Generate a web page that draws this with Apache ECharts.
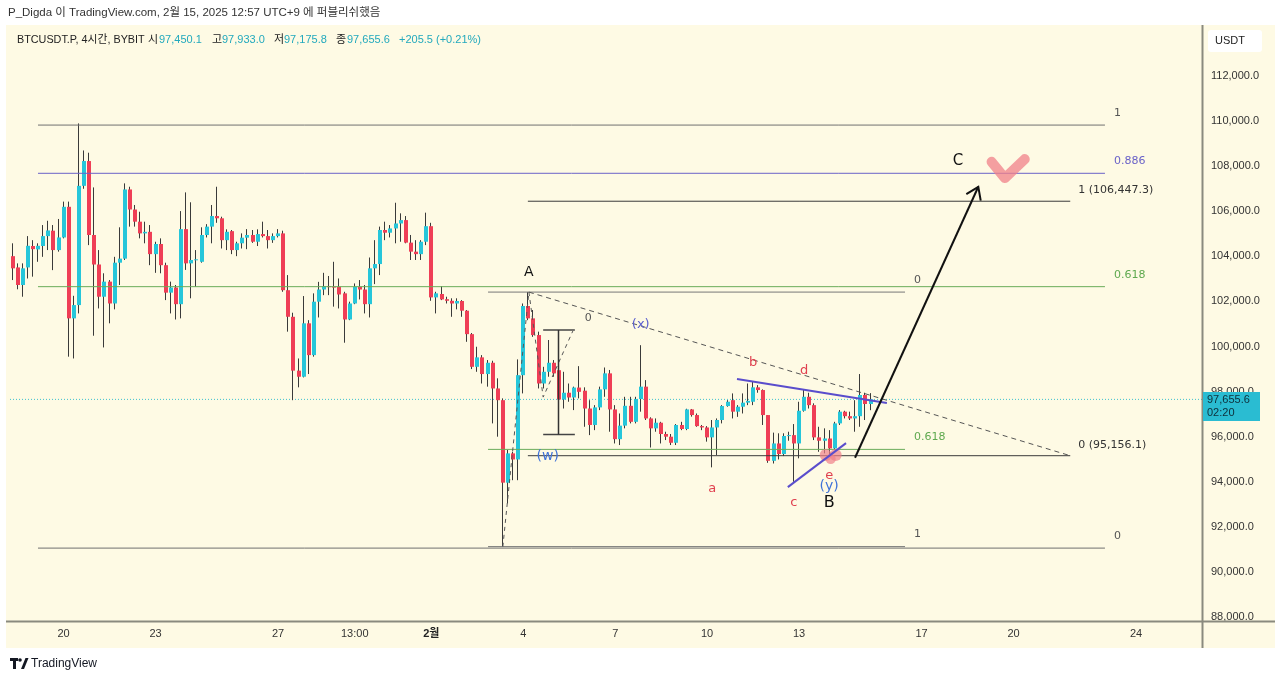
<!DOCTYPE html>
<html><head><meta charset="utf-8"><title>BTCUSDT.P 4h</title>
<script src="https://cdn.jsdelivr.net/npm/echarts@6/dist/echarts.min.js"></script>
<style>html,body{margin:0;padding:0;background:#ffffff;}#chart{width:1280px;height:681px;}</style>
</head><body><div id="chart"></div>
<script>
// ================= DATA =================
// 4-hour candles, index 0 = Jan 18 09:00 (UTC+9), index 168 = Feb 15 09:00
const candleOpen = [104010,103510,102730,103510,104460,104310,104460,104900,105140,104280,
104840,106200,101250,101840,107130,108230,104950,103640,102210,102880,
101910,103720,103900,106970,106080,105540,105020,105090,104100,104550,
103610,102390,102620,101880,105210,103690,103840,103760,104950,105320,
105790,105690,104720,105120,104280,104580,104830,104950,104650,104990,
104900,104720,104900,105020,102500,101320,98930,98660,101030,99620,
101990,102530,102680,102660,102650,102360,101200,101910,102650,102530,
101880,103470,103660,105170,105050,105240,105460,105610,104610,104210,
104100,104650,105340,102180,102330,102100,102030,101910,102020,101590,
100550,99100,99520,98780,99280,98140,97620,93960,95260,94990,
98730,101800,101250,100510,98360,98880,99280,98950,97650,97950,
97740,98180,98040,97250,96520,97300,98100,98810,97210,95890,
96490,97370,96660,97670,98220,96810,96370,96620,96120,96000,
95730,96520,96340,97210,96960,96470,96410,95970,96410,96740,
97360,97620,97110,97330,97510,97550,98190,98070,96960,94930,
95700,95230,96030,96070,95700,97150,97770,97400,95970,95820,
95920,95480,96590,97110,96910,96810,96910,97850,97450.1];
const candleHigh = [104580,103690,103690,104900,104720,104580,105390,105580,105390,105660,
106430,106430,102250,109900,108700,108600,107060,104280,103250,102950,
103980,105290,107240,107090,106280,105980,105540,105390,104650,104800,
103720,102880,102730,106010,106840,106400,104280,105290,105430,106280,
107090,105760,105200,105170,104650,105020,105210,105170,105200,105540,
105170,105020,105210,105140,103170,101500,99470,102240,101170,102360,
102870,103270,103130,103760,103020,102430,101990,102800,102950,102730,
103950,104720,105320,105540,105390,106380,105910,105790,104950,104720,
104720,105940,105490,102430,102680,102210,102140,102140,102060,101620,
100600,99990,99620,99400,99370,98590,97700,95410,95330,99430,
101910,102420,101620,100660,99100,100290,99400,99400,98880,98360,
98220,99130,98190,97620,97400,98220,99070,98960,97400,97030,
97770,97770,97770,100060,98510,96860,96810,96660,96220,96120,
96560,96660,97240,97230,97030,96520,96470,96740,96810,97400,
97620,97920,97400,97920,98360,98440,98290,98100,96960,96180,
96150,96150,96220,96560,97550,98100,97950,97480,96440,96370,
96290,96660,97180,97150,97110,97620,98780,97950,97933.0];
const candleLow = [102950,102540,102210,103020,103100,103760,103980,104280,103390,104210,
104800,99550,99470,101470,107000,104500,100480,101690,99960,101030,
101650,102730,103840,105320,105320,104800,104580,103610,103270,103250,
102060,101470,101200,101250,103400,102140,102650,103720,104840,104580,
105490,104350,104280,104100,104010,104350,104320,104600,104460,104840,
104350,104600,104840,102430,100660,97620,98190,98630,98780,99550,
101290,102280,102280,101770,101690,100170,101170,101880,102090,101470,
101290,102770,103170,104720,104840,104580,104650,104580,103840,103840,
103840,104500,102030,101470,102060,101910,101320,101650,101320,100210,
99000,98880,98360,98220,96590,96000,91120,93040,94070,94070,
97920,101170,100430,98140,98140,98660,98660,97480,97250,97550,
97180,97700,96440,96070,96290,97180,97770,96220,95700,95630,
96370,96590,96590,97110,96740,95520,96220,95700,95850,95630,
95630,96290,96290,96890,96440,96290,95780,94640,95180,96590,
97330,96810,96880,97030,97400,97400,97950,96520,94840,94810,
94990,95140,95820,94000,95040,97110,97250,95850,95330,95260,
95230,95410,96520,96810,96740,96220,96440,96740,97175.8];
const candleClose = [103470,102730,103470,104470,104320,104470,104900,105150,104280,104840,
106200,101250,101840,107130,108230,104950,103640,102210,102880,101910,
103720,103900,106970,106080,105540,105020,105090,104100,104550,103610,
102390,102620,101880,105210,103690,103840,103870,104950,105320,105790,
105690,104720,105090,104280,104580,104830,104950,104650,104990,104900,
104720,104900,105020,102500,101320,98930,98660,101030,99620,101990,
102530,102680,102660,102620,102310,101200,101910,102650,102530,101880,
103470,103660,105170,105050,105240,105460,105610,104610,104210,104100,
104650,105340,102180,102360,102090,102030,101910,102020,101590,100550,
99100,99520,98780,99280,98140,97620,93960,95260,94990,98730,
101800,101250,100510,98360,98880,99280,98810,97650,97950,97740,
98180,97990,97250,96520,97300,98100,98810,97210,95890,96490,
97370,96660,97670,98220,96810,96370,96620,96120,96000,95730,
96520,96340,97210,96960,96470,96410,95970,96410,96740,97360,
97550,97110,97330,97510,97590,98190,98070,96960,94930,95700,
95230,96030,96070,95700,97150,97770,97400,95970,95820,95920,
95480,96590,97110,96910,96810,96910,97850,97450.1,97655.6];

// x-axis tick labels (candle index -> label)
const xTickIndex  = [10, 28, 52, 67, 82, 100, 118, 136, 154, 178, 196, 220];
const xTickLabels = ['20','23','27','13:00','2월','4','7','10','13','17','20','24'];
const xSlots = [-0.5, 232.9];           // visible index range
const yRange = [88000, 114000];
const yStep = 2000;

// Fib retracement (Jan 20 high -> Feb 3 low)
const fibMainLevels = [1, 0.886, 0.618, 0];
const fibMainLevelText = ['1', '0.886', '0.618', '0'];
const fibMainPrices = [91057, 109826];   // price at level 0, level 1
const fibMainSpan = [4.98, 213.9];
// Fib retracement A -> low
const fibABLevels = [0, 0.618, 1];
const fibABLevelText = ['0', '0.618', '1'];
const fibABPrices = [102416, 91123];     // price at level 0, level 1
const fibABSpan = [93.1, 174.75];
// Trend-based extension levels
const extText = ['1 (106,447.3)', '0 (95,156.1)'];
const extPrices = [106447.3, 95156.1];
const extSpan = [100.9, 207.1];
// Dashed trend line from A
const trendDash = [[101.1, 102416], [207.1, 95156.1]];
// Dashed zigzag low -> A -> pullback -> projection
const zigDash = [[96, 91116], [101.1, 102416], [103.9, 97757], [109.7, 100686]];
// small projection bar
const barSpan = [103.9, 110.1];
const barMid = 106.9;
const barPrices = [100730, 96093];
const barText = '0';
// triangle lines
const triUpper = [[141.85, 98556], [171.2, 97491]];
const triLower = [[151.8, 93764], [163.2, 95716]];
// projection arrow
const arrowPath = [164.96, 95064, 189.1, 107088];
// pink marks
const checkMark = [[191.7, 108197], [194.3, 107474], [198.2, 108317]];
const blobMark = [160.2, 95139];
// wave labels [text, index, price]
const waveMajor = [['A', 101.1, 103303], ['B', 159.9, 93054], ['C', 185.1, 108229]];
const waveParen = [['(x)', 123.0, 100952], ['(w)', 104.8, 95139], ['(y)', 159.9, 93808]];
const waveMinor = [['a', 137.0, 93675], ['b', 145.0, 99266], ['c', 153.0, 93054], ['d', 155.0, 98911], ['e', 159.9, 94252]];

// ================= CHART =================
const FONT = "'Liberation Sans','Noto Sans CJK KR',sans-serif";
const FONT2 = "'DejaVu Sans','Noto Sans CJK KR',sans-serif";
const UP = '#26c6da', DOWN = '#ef3e56', WICK = '#3a3a3a';
const last = candleClose.length - 1;
const lastPrice = candleClose[last];

function fmt1(v) { return v.toLocaleString('en-US', {minimumFractionDigits: 1, maximumFractionDigits: 1}); }

const candleData = candleOpen.map((o, i) => [i, o, candleClose[i], candleLow[i], candleHigh[i]]);

function renderCandle(params, api) {
  const x = api.value(0), o = api.value(1), c = api.value(2), l = api.value(3), h = api.value(4);
  const po = api.coord([x, o]), pc = api.coord([x, c]), ph = api.coord([x, h]), pl = api.coord([x, l]);
  const bw = 4;
  const bx = Math.round(po[0] - bw / 2);
  const top = Math.min(po[1], pc[1]), bot = Math.max(po[1], pc[1]);
  return {type: 'group', children: [
    {type: 'line', shape: {x1: bx + 1.5, y1: ph[1], x2: bx + 1.5, y2: pl[1]}, style: {stroke: WICK, lineWidth: 1}},
    {type: 'rect', shape: {x: bx, y: top, width: bw, height: Math.max(bot - top, 1)}, style: {fill: c >= o ? UP : DOWN}}
  ]};
}

const series = [];
function lineSeries(points, color, width, type, z) {
  series.push({type: 'line', data: points, symbol: 'none', silent: true, z: z || 3,
    lineStyle: {color: color, width: width, type: type || 'solid'}, animation: false});
}
function textSeries(items, color, size, family, weight, dx, dy, align) {
  series.push({type: 'custom', silent: true, z: 6, animation: false,
    data: items.map(t => [t[1], t[2]]),
    encode: {x: 0, y: 1},
    renderItem: function (params, api) {
      const p = api.coord([api.value(0), api.value(1)]);
      return {type: 'text', x: p[0] + dx, y: p[1] + dy,
        style: {text: items[params.dataIndex][0], fill: color, font: weight + ' ' + size + 'px ' + family,
          textAlign: align, textVerticalAlign: 'middle', align: align, verticalAlign: 'middle'}};
    }});
}

// current price dotted line
lineSeries([[xSlots[0], lastPrice], [xSlots[1], lastPrice]], '#3fc1cf', 1, [1, 2], 1);

// candles
series.push({type: 'custom', name: 'BTCUSDT.P', data: candleData, renderItem: renderCandle,
  encode: {x: 0, y: [1, 2, 3, 4]}, z: 2, animation: false});

// main fib
const mainColors = {'1': '#707070', '0.886': '#6a62c8', '0.618': '#6aab5a', '0': '#707070'};
const mainLabels = [];
fibMainLevels.forEach((lv, k) => {
  const p = fibMainPrices[0] + lv * (fibMainPrices[1] - fibMainPrices[0]);
  lineSeries([[fibMainSpan[0], p], [fibMainSpan[1], p]], mainColors[fibMainLevelText[k]], 1);
  mainLabels.push([fibMainLevelText[k], fibMainSpan[1], p]);
});
mainLabels.forEach(t => textSeries([t], t[0] === '0.886' ? '#6a62c8' : (t[0] === '0.618' ? '#5fa94f' : '#555'), 11, FONT2, 'normal', 9, -12, 'left'));

// A -> low fib
const abLabels = [];
fibABLevels.forEach((lv, k) => {
  const p = fibABPrices[0] + lv * (fibABPrices[1] - fibABPrices[0]);
  lineSeries([[fibABSpan[0], p], [fibABSpan[1], p]], fibABLevelText[k] === '0.618' ? '#6aab5a' : '#787878', 1);
  abLabels.push([fibABLevelText[k], fibABSpan[1], p]);
});
abLabels.forEach(t => textSeries([t], t[0] === '0.618' ? '#5fa94f' : '#555', 11, FONT2, 'normal', 9, -12, 'left'));

// extension
extPrices.forEach((p, k) => {
  lineSeries([[extSpan[0], p], [extSpan[1], p]], '#3a3a3a', 1);
});
textSeries(extText.map((t, k) => [t, extSpan[1], extPrices[k]]), '#333', 11, FONT2, 'normal', 8, -11, 'left');

// dashed lines
lineSeries(trendDash, '#555', 1, [5, 4]);
lineSeries(zigDash, '#555', 1, [4, 4]);
// projection bar
lineSeries([[barSpan[0], barPrices[0]], [barSpan[1], barPrices[0]]], '#444', 1.5);
lineSeries([[barSpan[0], barPrices[1]], [barSpan[1], barPrices[1]]], '#444', 1.5);
lineSeries([[barMid, barPrices[0]], [barMid, barPrices[1]]], '#333', 1.5);
textSeries([[barText, barSpan[1], barPrices[0]]], '#555', 11, FONT2, 'normal', 10, -12, 'left');

// triangle lines
lineSeries(triUpper, '#5a4dcc', 2, 'solid', 4);
lineSeries(triLower, '#5a4dcc', 2, 'solid', 4);

// pink marks
lineSeries(checkMark, 'rgba(240,128,138,0.75)', 10, 'solid', 4);
series[series.length - 1].lineStyle.cap = 'round';
series[series.length - 1].lineStyle.join = 'round';
series.push({type: 'custom', silent: true, z: 4, animation: false, data: [blobMark], encode: {x: 0, y: 1},
  renderItem: function (params, api) {
    const p = api.coord([api.value(0), api.value(1)]);
    const fill = 'rgba(240,128,138,0.7)';
    return {type: 'group', children: [
      {type: 'circle', shape: {cx: p[0] - 5, cy: p[1] - 1, r: 6}, style: {fill: fill}},
      {type: 'circle', shape: {cx: p[0] + 5, cy: p[1] - 1, r: 6}, style: {fill: fill}},
      {type: 'circle', shape: {cx: p[0], cy: p[1] + 3, r: 5}, style: {fill: fill}}
    ]};
  }});

// arrow
series.push({type: 'custom', silent: true, z: 5, animation: false, data: [arrowPath], encode: {x: [0, 2], y: [1, 3]},
  renderItem: function (params, api) {
    const a = api.coord([api.value(0), api.value(1)]), b = api.coord([api.value(2), api.value(3)]);
    const ang = Math.atan2(b[1] - a[1], b[0] - a[0]);
    const len = 14, sp = 0.6;
    const h1 = [b[0] - len * Math.cos(ang - sp), b[1] - len * Math.sin(ang - sp)];
    const h2 = [b[0] - len * Math.cos(ang + sp), b[1] - len * Math.sin(ang + sp)];
    return {type: 'group', children: [
      {type: 'line', shape: {x1: a[0], y1: a[1], x2: b[0], y2: b[1]}, style: {stroke: '#111', lineWidth: 2}},
      {type: 'polyline', shape: {points: [h1, b, h2]}, style: {stroke: '#111', lineWidth: 2, fill: null}}
    ]};
  }});

// wave labels
textSeries([waveMajor[0]], '#111', 14, FONT2, 'normal', 0, 0, 'center');
textSeries([waveMajor[1]], '#111', 16, FONT2, 'normal', 0, 0, 'center');
textSeries([waveMajor[2]], '#111', 15, FONT2, 'normal', 0, 0, 'center');
textSeries([waveParen[0]], '#5a5fcf', 13, FONT2, 'normal', 0, 0, 'center');
textSeries([waveParen[1], waveParen[2]], '#3f72d8', 14, FONT2, 'normal', 0, 0, 'center');
textSeries(waveMinor, '#e0404f', 13, FONT2, 'normal', 0, 0, 'center');

const tickMap = {};
xTickIndex.forEach((v, k) => { tickMap[v] = xTickLabels[k]; });

const LBL = '11px ' + FONT;
function gtext(x, y, text, fill, font) {
  return {type: 'text', z: 61, x: x, y: y, style: {text: text, fill: fill, font: font || LBL, textVerticalAlign: 'middle', verticalAlign: 'middle'}};
}
const prevClose = candleClose[last - 1];
const change = lastPrice - prevClose;

const chart = echarts.init(document.getElementById('chart'), null, {renderer: 'canvas'});
chart.setOption({
  animation: false,
  backgroundColor: '#ffffff',
  textStyle: {fontFamily: FONT},
  grid: {left: 10, right: 78, top: 31, bottom: 64, containLabel: false, outerBoundsMode: 'none'},
  xAxis: {type: 'value', min: xSlots[0], max: xSlots[1], interval: 0.5,
    axisLine: {show: false}, axisTick: {show: false}, splitLine: {show: false},
    axisLabel: {margin: 11, color: '#333', fontSize: 11, fontFamily: FONT, showMinLabel: false, showMaxLabel: false,
      formatter: function (v) { const t = tickMap[v]; if (t === undefined) return ''; return t === '2월' ? '{b|' + t + '}' : t; },
      rich: {b: {fontWeight: 'bold', fontSize: 11, color: '#222', fontFamily: FONT}}}},
  yAxis: {type: 'value', position: 'right', min: yRange[0], max: yRange[1], interval: yStep,
    axisLine: {show: false}, axisTick: {show: false}, splitLine: {show: false},
    axisLabel: {margin: 9, color: '#333', fontSize: 11, fontFamily: FONT, showMaxLabel: false,
      formatter: function (v) { return v >= yRange[1] ? '' : fmt1(v); }}},
  series: series,
  graphic: {elements: [
    {type: 'rect', z: -100, shape: {x: 6, y: 25, width: 1269, height: 623}, style: {fill: '#fefae4'}},
    {type: 'line', z: 50, shape: {x1: 6, y1: 621.5, x2: 1275, y2: 621.5}, style: {stroke: '#8a8a7e', lineWidth: 2}},
    {type: 'line', z: 50, shape: {x1: 1202.5, y1: 25, x2: 1202.5, y2: 648}, style: {stroke: '#8a8a7e', lineWidth: 2}},
    {type: 'rect', z: 60, shape: {x: 1208, y: 30, width: 54, height: 22, r: 3}, style: {fill: '#ffffff'}},
    gtext(1215, 41, 'USDT', '#222'),
    {type: 'rect', z: 60, shape: {x: 1203, y: 392, width: 57, height: 29}, style: {fill: '#2abcd2'}},
    gtext(1207, 400, fmt1(lastPrice), '#0e2f3a'),
    gtext(1207, 413, '02:20', '#0e2f3a'),
    gtext(8, 13, 'P_Digda 이 TradingView.com, 2월 15, 2025 12:57 UTC+9 에 퍼블리쉬했음', '#333', '11.5px ' + FONT),
    gtext(17, 40, 'BTCUSDT.P, 4시간, BYBIT', '#222', '10.8px ' + FONT),
    gtext(148, 40, '시', '#222'),
    gtext(159, 40, fmt1(candleOpen[last]), '#22a9bd'),
    gtext(212, 40, '고', '#222'),
    gtext(222, 40, fmt1(candleHigh[last]), '#22a9bd'),
    gtext(274, 40, '저', '#222'),
    gtext(284, 40, fmt1(candleLow[last]), '#22a9bd'),
    gtext(336, 40, '종', '#222'),
    gtext(347, 40, fmt1(lastPrice), '#22a9bd'),
    gtext(399, 40, (change >= 0 ? '+' : '') + fmt1(change) + ' (' + (change >= 0 ? '+' : '') + (change / prevClose * 100).toFixed(2) + '%)', '#22a9bd'),
    {type: 'rect', z: 61, shape: {x: 10, y: 658, width: 8, height: 3}, style: {fill: '#131722'}},
    {type: 'rect', z: 61, shape: {x: 13, y: 658, width: 3, height: 11}, style: {fill: '#131722'}},
    {type: 'circle', z: 61, shape: {cx: 20, cy: 660, r: 1.8}, style: {fill: '#131722'}},
    {type: 'polygon', z: 61, shape: {points: [[21, 669], [25.5, 658], [28.5, 658], [24, 669]]}, style: {fill: '#131722'}},
    gtext(31, 664, 'TradingView', '#131722', '12px ' + FONT)
  ]}
});
</script></body></html>
